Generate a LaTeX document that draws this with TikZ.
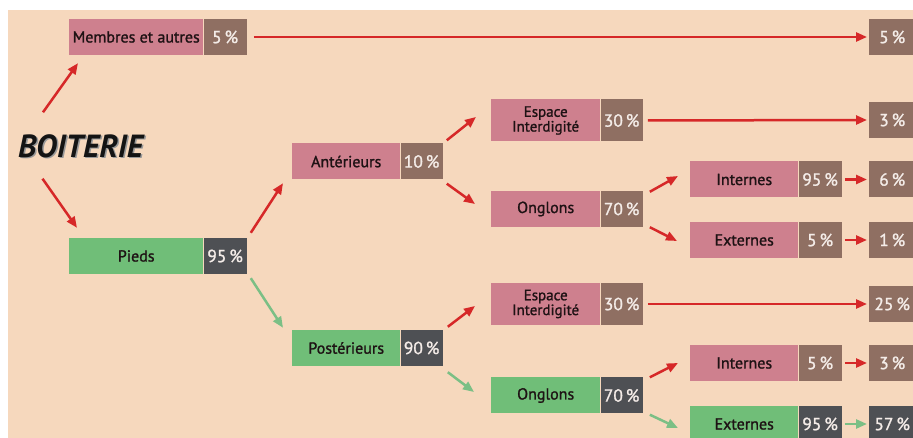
\documentclass[tikz,border=0pt]{standalone}
\usepackage{fontspec}
\setmainfont{PT Sans}
\newfontfamily\boxfont{PT Sans}[FakeBold=1.3]
\usepackage{xcolor}
\definecolor{paperBg}{HTML}{F6D8BD}
\definecolor{pinkBox}{HTML}{CE808E}
\definecolor{brownBox}{HTML}{8F6F62}
\definecolor{greenBox}{HTML}{70BE78}
\definecolor{grayBox}{HTML}{4E5054}
\definecolor{darkText}{HTML}{1E1214}
\definecolor{pctText}{HTML}{F4ECE8}
\definecolor{arrowRed}{HTML}{D62828}
\definecolor{arrowGreen}{HTML}{7BBF85}
\usetikzlibrary{positioning,arrows.meta,calc}
\tikzset{%
  labBox/.style={%
    rectangle,
    inner sep=0pt,
    minimum height=36pt,
    anchor=west,
    text=darkText,
    font=\boxfont\fontsize{16}{16}\selectfont,
    align=center
  },
  redLab/.style={labBox, fill=pinkBox},
  greenLab/.style={labBox, fill=greenBox},
  pctBox/.style={%
    rectangle,
    inner sep=0pt,
    minimum height=36pt,
    minimum width=42pt,
    text=pctText,
    font=\boxfont\fontsize{17.5}{17.5}\selectfont
  },
  redPct/.style={pctBox, fill=brownBox},
  greenPct/.style={pctBox, fill=grayBox},
  resBox/.style={pctBox, anchor=west, minimum width=46pt},
  titleText/.style={%
    inner sep=0pt,
    text height=23pt,
    text depth=0pt,
    font=\fontsize{32}{32}\selectfont\bfseries\itshape
  },
  redArrow/.style={%
    -{Triangle[length=11pt,width=9pt]},
    line width=2.5pt,
    draw=arrowRed
  },
  greenArrow/.style={%
    -{Triangle[length=11pt,width=9pt]},
    line width=2.5pt,
    draw=arrowGreen
  }
}
\begin{document}
\begin{tikzpicture}[x=1pt,y=1pt]
  \useasboundingbox (0,0) rectangle (913,438);
  \clip (0,0) rectangle (913,438);
  \fill[white] (0,0) rectangle (913,438);
  \fill[paperBg] (8,0) rectangle (913,428);

  % title
  \node[titleText, text=black!40] (boitShadow) at (82,290.5) {BOITERIE};
  \node[titleText, text=black!92] (boit) at (80.5,292) {BOITERIE};

  % first level
  \node[redLab, minimum width=134pt] (memb) at (69,401) {Membres et autres};
  \node[redPct, minimum width=43pt, right=0pt of memb] (membP) {5\,\%};
  \node[greenLab, minimum width=134pt] (pieds) at (69,182) {Pieds};
  \node[greenPct, minimum width=43pt, right=0pt of pieds] (piedsP) {95\,\%};

  % second level
  \node[redLab, minimum width=108pt] (ant) at (292,276.5) {Antérieurs};
  \node[redPct, right=0pt of ant] (antP) {10\,\%};
  \node[greenLab, minimum width=108pt] (post) at (292,90) {Postérieurs};
  \node[greenPct, right=0pt of post] (postP) {90\,\%};

  % third level
  \node[redLab, minimum width=109pt, minimum height=42pt, font=\boxfont\fontsize{15}{13}\selectfont] (espA) at (491,317.5) {Espace\\Interdigité};
  \node[redPct, minimum height=42pt, right=0pt of espA] (espAP) {30\,\%};
  \node[redLab, minimum width=109pt] (onglA) at (491,229) {Onglons};
  \node[redPct, right=0pt of onglA] (onglAP) {70\,\%};
  \node[redLab, minimum width=109pt, minimum height=42pt, font=\boxfont\fontsize{15}{13}\selectfont] (espB) at (491,134) {Espace\\Interdigité};
  \node[redPct, minimum height=42pt, right=0pt of espB] (espBP) {30\,\%};
  \node[greenLab, minimum width=109pt] (onglB) at (491,42.5) {Onglons};
  \node[greenPct, right=0pt of onglB] (onglBP) {70\,\%};

  % fourth level
  \node[redLab, minimum width=108pt] (intA) at (690,258.5) {Internes};
  \node[redPct, minimum width=43pt, right=0pt of intA] (intAP) {95\,\%};
  \node[redLab, minimum width=108pt] (extA) at (690,198) {Externes};
  \node[redPct, minimum width=43pt, right=0pt of extA] (extAP) {5\,\%};
  \node[redLab, minimum width=108pt] (intB) at (690,75) {Internes};
  \node[redPct, minimum width=43pt, right=0pt of intB] (intBP) {5\,\%};
  \node[greenLab, minimum width=108pt] (extB) at (690,14) {Externes};
  \node[greenPct, minimum width=43pt, right=0pt of extB] (extBP) {95\,\%};

  % results
  \node[resBox, fill=brownBox] (resM) at (869,401) {5\,\%};
  \node[resBox, fill=brownBox] (resEA) at (869,318) {3\,\%};
  \node[resBox, fill=brownBox] (resIA) at (869,258.5) {6\,\%};
  \node[resBox, fill=brownBox] (resXA) at (869,198) {1\,\%};
  \node[resBox, fill=brownBox] (resEB) at (869,134) {25\,\%};
  \node[resBox, fill=brownBox] (resIB) at (869,75) {3\,\%};
  \node[resBox, fill=grayBox] (resXB) at (869,14) {57\,\%};

  % connectors
  \draw[redArrow] ([shift={(-37.5,22)}]boit.north) -- ([shift={(9,-8)}]memb.south west);
  \draw[redArrow] ([shift={(-38,-21)}]boit.south) -- ([shift={(8,10)}]pieds.north west);
  \draw[redArrow] ([xshift=7pt]membP.east) -- ([xshift=-2pt]resM.west);
  \draw[redArrow] ([shift={(4,5)}]piedsP.north east) -- ([shift={(-9,-3.5)}]ant.south west);
  \draw[greenArrow] ([shift={(4,-4)}]piedsP.south east) -- ([shift={(-9,2)}]post.north west);
  \draw[redArrow] ([shift={(4,3)}]antP.north east) -- ([shift={(-15,3.5)}]espA.west);
  \draw[redArrow] ([shift={(4,-4)}]antP.south east) -- ([shift={(-16,5)}]onglA.west);
  \draw[redArrow] ([xshift=5pt]espAP.east) -- ([xshift=-2pt]resEA.west);
  \draw[redArrow] ([shift={(7,-1)}]onglAP.north east) -- ([shift={(-12,3.5)}]intA.west);
  \draw[redArrow] ([shift={(7,0)}]onglAP.south east) -- ([shift={(-13,-1)}]extA.west);
  \draw[redArrow] ([xshift=3pt]intAP.east) -- ([xshift=-2pt]resIA.west);
  \draw[redArrow] ([xshift=3pt]extAP.east) -- ([xshift=-2pt]resXA.west);
  \draw[redArrow] ([shift={(5,3)}]postP.north east) -- ([shift={(-16,-2)}]espB.west);
  \draw[greenArrow] ([shift={(5,-6)}]postP.south east) -- ([shift={(-17,3.5)}]onglB.west);
  \draw[redArrow] ([xshift=5pt]espBP.east) -- ([xshift=-2pt]resEB.west);
  \draw[redArrow] ([shift={(7,0)}]onglBP.north east) -- ([shift={(-12,0)}]intB.west);
  \draw[greenArrow] ([shift={(7,-1)}]onglBP.south east) -- ([shift={(-12,-4)}]extB.west);
  \draw[redArrow] ([xshift=3pt]intBP.east) -- ([xshift=-2pt]resIB.west);
  \draw[greenArrow] ([xshift=3pt]extBP.east) -- ([xshift=-2pt]resXB.west);
\end{tikzpicture}
\end{document}
